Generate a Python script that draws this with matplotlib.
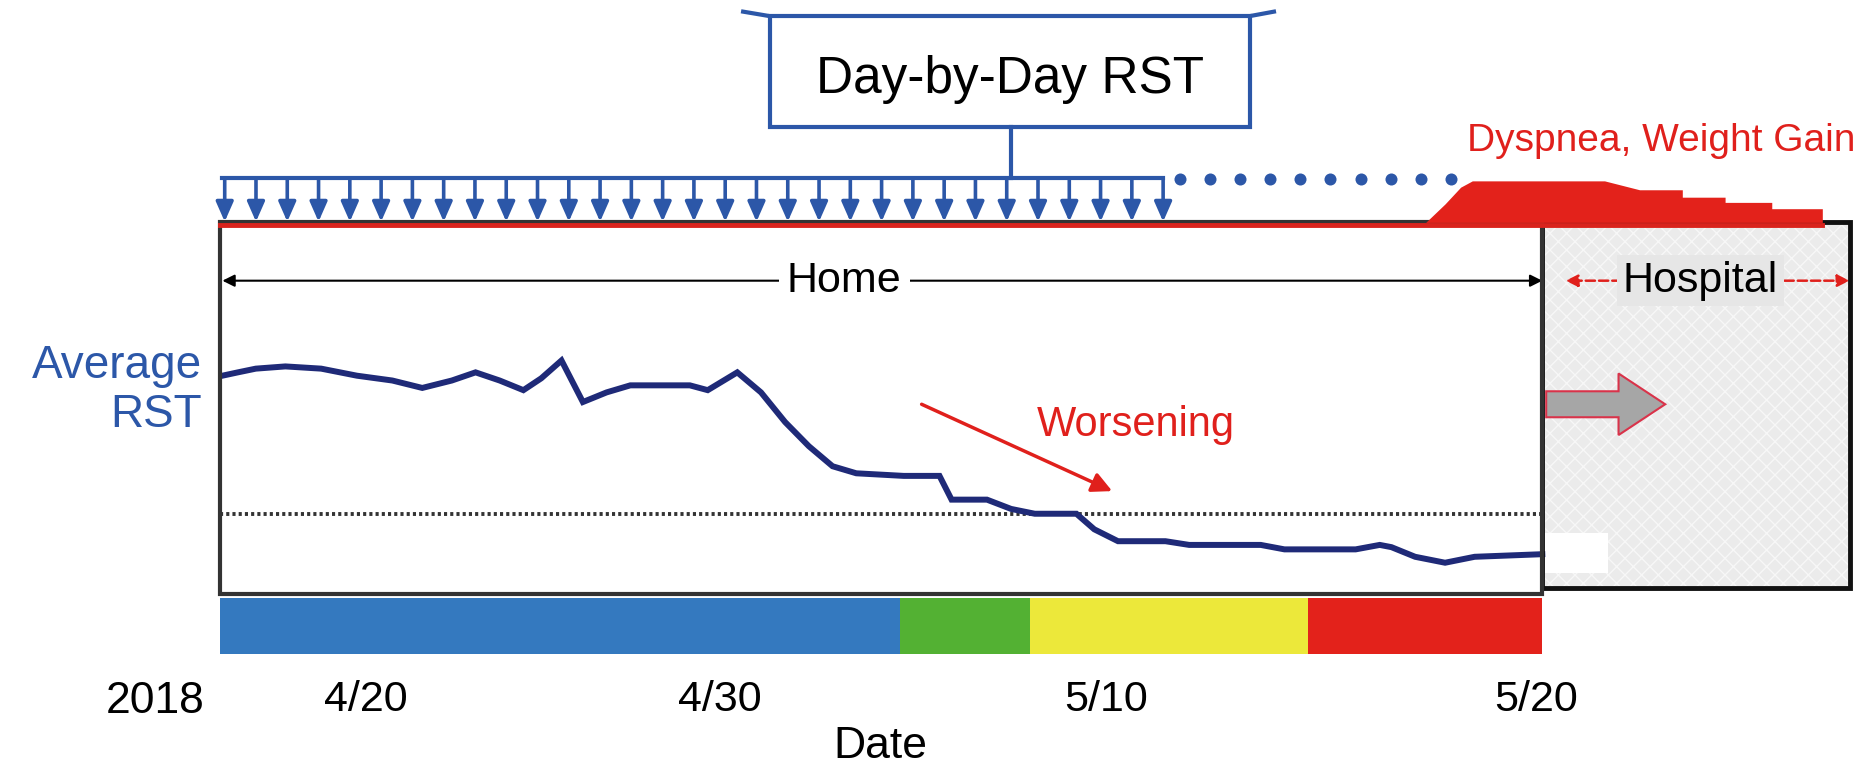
import numpy as np
import matplotlib
matplotlib.use("Agg")
import matplotlib.pyplot as plt
from matplotlib.patches import Rectangle, FancyArrow

plt.rcParams['font.family'] = ['Liberation Sans', 'DejaVu Sans']
plt.rcParams['hatch.linewidth'] = 1.0

# Average RST trace, x = days since 4/16, y = relative RST units (0-100 box)
rst_days = [0.06, 0.46, 0.92, 1.68, 2.60, 3.52, 4.43, 5.20, 5.96, 6.57, 7.19, 7.80,
            8.26, 8.78, 9.33, 9.94, 10.55, 12.08, 12.54, 13.30, 13.91, 14.53, 15.14,
            15.75, 16.36, 17.58, 18.50, 18.81, 19.72, 20.34, 20.95, 22.02, 22.48,
            23.09, 24.31, 24.92, 26.76, 27.37, 29.20, 29.82, 30.12, 30.73, 31.50,
            32.26, 34.0]
rst_vals = [58.7, 59.6, 60.6, 61.2, 60.6, 58.7, 57.4, 55.4, 57.4, 59.6, 57.4, 54.8,
            58.0, 62.8, 51.6, 54.2, 56.1, 56.1, 54.8, 59.6, 54.2, 46.2, 39.7,
            34.3, 32.4, 31.7, 31.7, 25.3, 25.3, 22.8, 21.5, 21.5, 17.3,
            14.1, 14.1, 13.1, 13.1, 11.9, 11.9, 13.1, 12.5, 9.9, 8.3,
            9.9, 10.6]
threshold = 21.5

# colour band under the trace
band_starts = [0.0, 17.49, 20.83, 27.98]
band_ends = [17.49, 20.83, 27.98, 34.0]
band_colors = ["#3479bf", "#53b133", "#ece83a", "#e3221b"]

# dyspnea / weight gain bump above the box
dysp_days = [31.0, 31.5, 31.9, 32.2, 35.6, 36.5, 37.6, 37.6, 38.7, 38.7, 39.9, 39.9, 41.2, 41.2]
dysp_height = [0, 5.0, 9.5, 11.2, 11.2, 8.8, 8.8, 6.8, 6.8, 5.4, 5.4, 3.7, 3.7, 0]

tick_days = [3.76, 12.84, 22.78, 33.85]
tick_labels = ["4/20", "4/30", "5/10", "5/20"]

home_end = 34.0
hosp_end = 41.9
n_daily = 31
daily_end = 24.25
n_later = 10

blue = "#2c57a8"
red = "#e0201c"

fig = plt.figure(figsize=(18.65, 7.66), dpi=100)
ax = fig.add_axes([185 / 1568, 1 - 499 / 644, 1370 / 1568, 312 / 644])
ax.set_xlim(0, hosp_end)
ax.set_ylim(0, 100)
for s in ax.spines.values():
    s.set_visible(False)
ax.set_yticks([])
ax.set_xticks(tick_days, tick_labels)
ax.tick_params(axis='x', length=0, pad=62, labelsize=31)

# hospital box
ax.add_patch(Rectangle((home_end, 1.5), hosp_end - home_end, 98.5, facecolor="#ebebeb",
                       hatch="xx", edgecolor="#f7f7f7", lw=0, clip_on=False))
ax.add_patch(Rectangle((home_end, 5.4), 1.7, 10.9, facecolor="white", lw=0, clip_on=False))
ax.add_patch(Rectangle((home_end, 1.5), hosp_end - home_end, 98.5, facecolor="none",
                       edgecolor="#111111", lw=3.5, clip_on=False, zorder=4))
# home box
ax.add_patch(Rectangle((0, 0), home_end, 100, facecolor="none", edgecolor="#333333",
                       lw=3, clip_on=False, zorder=4))

# red line on top edge + dyspnea area
ax.plot([0, 41.2], [99.4, 99.4], color="#d9231d", lw=3.5, clip_on=False, zorder=5)
ax.fill_between(dysp_days, 100, 100 + np.array(dysp_height), color="#e3221b",
                lw=0, clip_on=False, zorder=5)
ax.text(42.05, 122, "Dyspnea, Weight Gain", color=red, fontsize=28, ha="right", va="center")

# RST trace and threshold
ax.plot([0, home_end], [threshold, threshold], color="#333333", ls=(0, (0.8, 0.8)), lw=2.8)
ax.plot(rst_days, rst_vals, color="#1f2a78", lw=4.3, solid_joinstyle="miter", zorder=3)

# colour band
for x0, x1, c in zip(band_starts, band_ends, band_colors):
    ax.add_patch(Rectangle((x0, -16.3), x1 - x0, 15.0, facecolor=c, lw=0, clip_on=False))

# Day-by-Day RST box and daily arrows
ax.add_patch(Rectangle((14.13, 125.6), 12.35, 30.0, facecolor="white", edgecolor=blue,
                       lw=3, clip_on=False))
ax.plot([14.13, 13.45], [155.6, 156.8], color=blue, lw=3, clip_on=False)
ax.plot([26.48, 27.1], [155.6, 156.8], color=blue, lw=3, clip_on=False)
ax.text(20.3, 138.5, "Day-by-Day RST", fontsize=37, ha="center", va="center")
ax.plot([20.34, 20.34], [125.6, 111.9], color=blue, lw=3, clip_on=False)
ax.plot([0.06, daily_end], [111.9, 111.9], color=blue, lw=3, clip_on=False)
for xd in np.linspace(0.12, daily_end, n_daily):
    ax.annotate("", xy=(xd, 100.2), xytext=(xd, 112.0),
                arrowprops=dict(arrowstyle="-|>,head_length=0.5,head_width=0.22", color=blue,
                                lw=2.6, mutation_scale=24, shrinkA=0, shrinkB=0),
                annotation_clip=False)
ax.scatter(np.linspace(24.68, 31.65, n_later), [111.6] * n_later, s=75, color=blue,
           clip_on=False, lw=0)

# Home / Hospital arrows
ax.annotate("", xy=(0.06, 84.3), xytext=(home_end, 84.3),
            arrowprops=dict(arrowstyle="<|-|>", color="black", lw=1.5, mutation_scale=18,
                            shrinkA=0, shrinkB=0))
ax.text(16.05, 84.3, "Home", fontsize=31, ha="center", va="center",
        bbox=dict(facecolor="white", edgecolor="none", pad=6))
ax.annotate("", xy=(34.6, 84.3), xytext=(hosp_end, 84.3),
            arrowprops=dict(arrowstyle="<|-|>", color=red, lw=1.8, ls="--", mutation_scale=18,
                            shrinkA=0, shrinkB=0), annotation_clip=False)
ax.text(38.07, 84.3, "Hospital", fontsize=31, ha="center", va="center",
        bbox=dict(facecolor="#e6e6e6", edgecolor="none", pad=4))

# Average RST label
ax.text(-0.46, 54.8, "Average\nRST", color=blue, fontsize=33, ha="right", va="center",
        multialignment="right", linespacing=1.15)

# Worsening arrow
ax.annotate("", xy=(22.94, 27.6), xytext=(18.04, 51.0),
            arrowprops=dict(arrowstyle="-|>", color=red, lw=2.5, mutation_scale=30,
                            shrinkA=0, shrinkB=0))
ax.text(23.55, 45.5, "Worsening", color=red, fontsize=30, ha="center", va="center")

# block arrow into hospital
ax.add_patch(FancyArrow(34.1, 51.0, 3.06, 0, width=7.0, head_width=16.6, head_length=1.2,
                        length_includes_head=True, facecolor="#a6a6a6", edgecolor="#d9334a",
                        lw=1.5, clip_on=False, zorder=4))

# bottom labels
ax.text(-1.68, -29.2, "2018", fontsize=32, ha="center", va="center")
ax.text(16.97, -41.3, "Date", fontsize=32, ha="center", va="center")

fig.savefig("out.png", dpi=100)
